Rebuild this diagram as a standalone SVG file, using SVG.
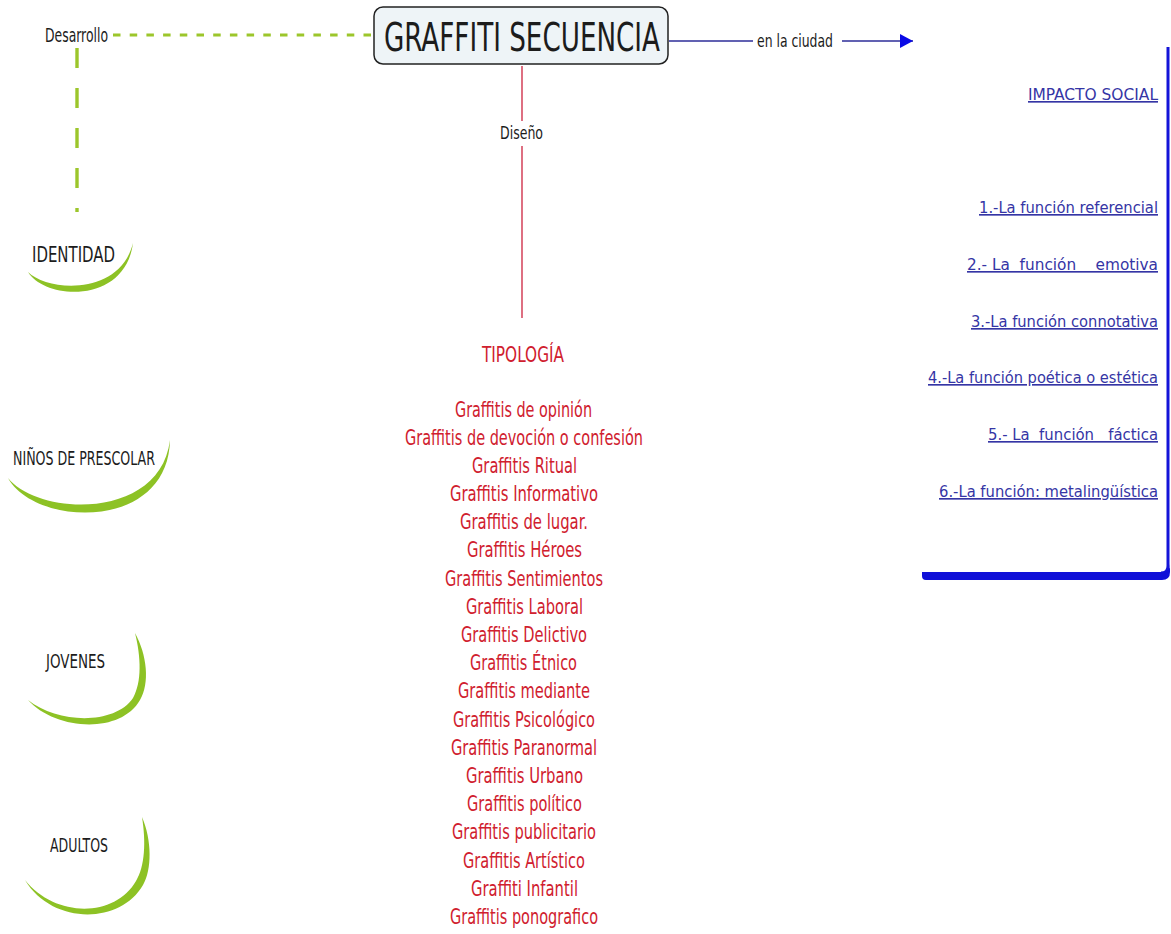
<svg xmlns="http://www.w3.org/2000/svg" width="1171" height="934" viewBox="0 0 1171 934">
<defs>
<style>
text{font-family:"DejaVu Sans Condensed","DejaVu Sans","Liberation Sans",sans-serif;}
.dark{fill:#1c1c1c;}
.red{fill:#d0202e;font-size:21px;text-anchor:middle;}
.blue{fill:#3535a5;font-size:16.5px;text-decoration:underline;white-space:pre;text-anchor:end;}
.cres{fill:#8dc225;}
.green-dash{fill:none;stroke:#9cc62b;}
</style>
<marker id="arr" viewBox="0 0 13 14" refX="13" refY="7" markerWidth="13" markerHeight="14" markerUnits="userSpaceOnUse" orient="auto">
<path d="M0,0 L13,7 L0,14 Z" fill="#0a0ae6"/>
</marker>
</defs>
<rect width="1171" height="934" fill="#ffffff"/>

<g id="connectors">
<line class="green-dash" x1="113" y1="35" x2="373" y2="35" stroke-width="3.2" stroke-dasharray="7.5 9.2"/>
<line class="green-dash" x1="77" y1="48" x2="77" y2="212" stroke-width="3.4" stroke-dasharray="20 20"/>
<line x1="669" y1="41" x2="753" y2="41" stroke="#2c2c98" stroke-width="1.6"/>
<line x1="842" y1="41" x2="913" y2="41" stroke="#2c2c98" stroke-width="1.6" marker-end="url(#arr)"/>
<line x1="522" y1="66" x2="522" y2="121" stroke="#c8102e" stroke-width="1.2"/>
<line x1="522" y1="146" x2="522" y2="318" stroke="#c8102e" stroke-width="1.2"/>
<text class="dark" x="45" y="42" font-size="19" textLength="63" lengthAdjust="spacingAndGlyphs">Desarrollo</text>
<text class="dark" x="757" y="47" font-size="18" textLength="76" lengthAdjust="spacingAndGlyphs">en la ciudad</text>
<text class="dark" x="500" y="139" font-size="18" textLength="43" lengthAdjust="spacingAndGlyphs">Diseño</text>
</g>

<g id="node-main">
<rect x="374" y="7" width="294" height="57" rx="9" fill="#eef4f7" stroke="#222" stroke-width="1.5"/>
<text class="dark" x="384" y="51" font-size="39" textLength="276" lengthAdjust="spacingAndGlyphs">GRAFFITI SECUENCIA</text>
</g>

<g id="node-identidad">
<path class="cres" d="M28,272 C45,300 125,305 133,243 C120,296 48,292 28,272 Z"/>
<text class="dark" x="32" y="262" font-size="21" textLength="83" lengthAdjust="spacingAndGlyphs">IDENTIDAD</text>
</g>

<g id="node-ninos">
<path class="cres" d="M8,478 C35,527 168,532 170,440 C160,521 38,516 8,478 Z"/>
<text class="dark" x="13" y="465" font-size="20" textLength="142" lengthAdjust="spacingAndGlyphs">NIÑOS DE PRESCOLAR</text>
</g>

<g id="node-jovenes">
<path class="cres" d="M28,700 C55,730 120,735 140,700 C150,683 147,655 135,633 C141,657 142,682 133,698 C115,725 58,724 28,700 Z"/>
<text class="dark" x="46" y="668" font-size="19" textLength="59" lengthAdjust="spacingAndGlyphs">JOVENES</text>
</g>

<g id="node-adultos">
<path class="cres" d="M25,880 C52,925 120,925 143,885 C152,870 152,840 142,817 C146,842 145,866 136,881 C115,918 55,918 25,880 Z"/>
<text class="dark" x="50" y="852" font-size="19" textLength="58" lengthAdjust="spacingAndGlyphs">ADULTOS</text>
</g>

<g id="node-tipologia">
<text class="red" x="523" y="362" textLength="82" lengthAdjust="spacingAndGlyphs">TIPOLOGÍA</text>
<text class="red" x="523.5" y="417" textLength="137" lengthAdjust="spacingAndGlyphs">Graffitis de opinión</text>
<text class="red" x="524" y="445" textLength="238" lengthAdjust="spacingAndGlyphs">Graffitis de devoción o confesión</text>
<text class="red" x="524.5" y="473" textLength="105" lengthAdjust="spacingAndGlyphs">Graffitis Ritual</text>
<text class="red" x="524" y="501" textLength="148" lengthAdjust="spacingAndGlyphs">Graffitis Informativo</text>
<text class="red" x="524" y="529" textLength="128" lengthAdjust="spacingAndGlyphs">Graffitis de lugar.</text>
<text class="red" x="524.5" y="557" textLength="115" lengthAdjust="spacingAndGlyphs">Graffitis Héroes</text>
<text class="red" x="524" y="586" textLength="158" lengthAdjust="spacingAndGlyphs">Graffitis Sentimientos</text>
<text class="red" x="524.5" y="614" textLength="117" lengthAdjust="spacingAndGlyphs">Graffitis Laboral</text>
<text class="red" x="524" y="642" textLength="126" lengthAdjust="spacingAndGlyphs">Graffitis Delictivo</text>
<text class="red" x="523.5" y="670" textLength="107" lengthAdjust="spacingAndGlyphs">Graffitis Étnico</text>
<text class="red" x="524" y="698" textLength="132" lengthAdjust="spacingAndGlyphs">Graffitis mediante</text>
<text class="red" x="524" y="727" textLength="142" lengthAdjust="spacingAndGlyphs">Graffitis Psicológico</text>
<text class="red" x="524" y="755" textLength="146" lengthAdjust="spacingAndGlyphs">Graffitis Paranormal</text>
<text class="red" x="524.5" y="783" textLength="117" lengthAdjust="spacingAndGlyphs">Graffitis Urbano</text>
<text class="red" x="524.5" y="811" textLength="115" lengthAdjust="spacingAndGlyphs">Graffitis político</text>
<text class="red" x="524" y="839" textLength="144" lengthAdjust="spacingAndGlyphs">Graffitis publicitario</text>
<text class="red" x="524" y="868" textLength="122" lengthAdjust="spacingAndGlyphs">Graffitis Artístico</text>
<text class="red" x="524.5" y="896" textLength="107" lengthAdjust="spacingAndGlyphs">Graffiti Infantil</text>
<text class="red" x="524" y="924" textLength="148" lengthAdjust="spacingAndGlyphs">Graffitis ponografico</text>
</g>

<g id="node-impacto">
<path d="M1168,47 V566 Q1168,573 1161,573" fill="none" stroke="#1414d8" stroke-width="3"/>
<path d="M922,572 H1162 Q1170,572 1170,564 V572 Q1170,580 1162,580 H926 Q922,580 922,576 Z" fill="#1010d8"/>
<text class="blue" x="1158" y="100" font-size="20" textLength="130" lengthAdjust="spacingAndGlyphs">IMPACTO SOCIAL</text>
<text class="blue" x="1158" y="213" textLength="179" lengthAdjust="spacingAndGlyphs">1.-La función referencial</text>
<text class="blue" x="1158" y="270" textLength="191" lengthAdjust="spacingAndGlyphs">2.- La  función    emotiva</text>
<text class="blue" x="1158" y="327" textLength="187" lengthAdjust="spacingAndGlyphs">3.-La función connotativa</text>
<text class="blue" x="1158" y="383" textLength="230" lengthAdjust="spacingAndGlyphs">4.-La función poética o estética</text>
<text class="blue" x="1158" y="440" textLength="170" lengthAdjust="spacingAndGlyphs">5.- La  función   fáctica</text>
<text class="blue" x="1158" y="497" textLength="219" lengthAdjust="spacingAndGlyphs">6.-La función: metalingüística</text>
</g>
</svg>
